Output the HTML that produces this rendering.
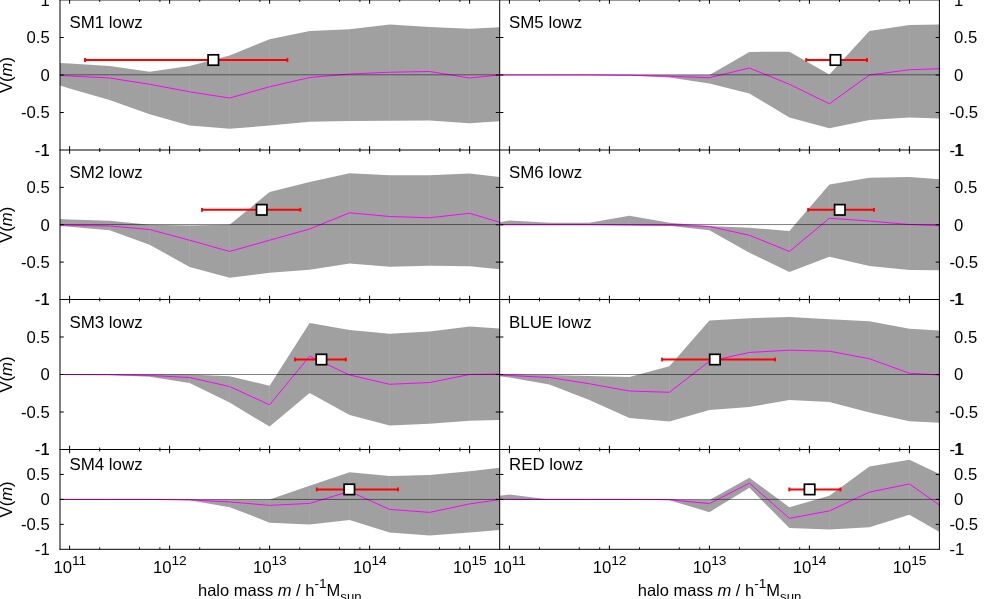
<!DOCTYPE html>
<html><head><meta charset="utf-8"><title>V(m) vs halo mass</title>
<style>
html,body{margin:0;padding:0;background:#fff;}
body{width:999px;height:599px;overflow:hidden;position:relative;font-family:"Liberation Sans",sans-serif;}
</style></head><body>
<svg width="999" height="599" viewBox="0 0 999 599" style="position:absolute;left:0;top:0;display:block" font-family="'Liberation Sans', sans-serif" font-size="16.7" fill="#000">
<rect x="0" y="0" width="999" height="599" fill="#fff"/>
<polygon fill="#a0a0a0" points="60,62.98 69.6,63.48 109.6,65.98 149.6,71.74 189.6,65.98 229.6,55.46 269.6,39.18 309.6,30.91 349.6,29.16 389.6,24.4 429.6,26.9 469.6,28.66 499.6,27.15 499.6,121.34 469.6,123.35 429.6,120.59 389.6,120.84 349.6,121.09 309.6,121.84 269.6,125.6 229.6,128.86 189.6,125.6 149.6,114.33 109.6,100.05 69.6,88.53 60,85.52"/>
<line x1="109.6" y1="66.48" x2="109.6" y2="99.55" stroke="#fff" stroke-opacity="0.07" stroke-width="1"/>
<line x1="149.6" y1="72.24" x2="149.6" y2="113.83" stroke="#fff" stroke-opacity="0.07" stroke-width="1"/>
<line x1="189.6" y1="66.48" x2="189.6" y2="125.1" stroke="#fff" stroke-opacity="0.07" stroke-width="1"/>
<line x1="229.6" y1="55.96" x2="229.6" y2="128.36" stroke="#fff" stroke-opacity="0.07" stroke-width="1"/>
<line x1="269.6" y1="39.68" x2="269.6" y2="125.1" stroke="#fff" stroke-opacity="0.07" stroke-width="1"/>
<line x1="309.6" y1="31.41" x2="309.6" y2="121.34" stroke="#fff" stroke-opacity="0.07" stroke-width="1"/>
<line x1="349.6" y1="29.66" x2="349.6" y2="120.59" stroke="#fff" stroke-opacity="0.07" stroke-width="1"/>
<line x1="389.6" y1="24.9" x2="389.6" y2="120.34" stroke="#fff" stroke-opacity="0.07" stroke-width="1"/>
<line x1="429.6" y1="27.4" x2="429.6" y2="120.09" stroke="#fff" stroke-opacity="0.07" stroke-width="1"/>
<line x1="469.6" y1="29.16" x2="469.6" y2="122.85" stroke="#fff" stroke-opacity="0.07" stroke-width="1"/>
<polygon fill="#a0a0a0" points="60,219.01 69.6,219.51 109.6,220.76 149.6,224.75 189.6,225.62 229.6,224.75 269.6,192.04 309.6,182.06 349.6,173.32 389.6,175.32 429.6,175.32 469.6,173.57 499.6,177.06 499.6,269.19 469.6,266.19 429.6,265.7 389.6,266.69 349.6,263.45 309.6,269.69 269.6,272.69 229.6,277.68 189.6,266.94 149.6,244.72 109.6,230.24 69.6,226.75 60,226"/>
<line x1="109.6" y1="221.26" x2="109.6" y2="229.74" stroke="#fff" stroke-opacity="0.07" stroke-width="1"/>
<line x1="149.6" y1="225.25" x2="149.6" y2="244.22" stroke="#fff" stroke-opacity="0.07" stroke-width="1"/>
<line x1="189.6" y1="226.12" x2="189.6" y2="266.44" stroke="#fff" stroke-opacity="0.07" stroke-width="1"/>
<line x1="229.6" y1="225.25" x2="229.6" y2="277.18" stroke="#fff" stroke-opacity="0.07" stroke-width="1"/>
<line x1="269.6" y1="192.54" x2="269.6" y2="272.19" stroke="#fff" stroke-opacity="0.07" stroke-width="1"/>
<line x1="309.6" y1="182.56" x2="309.6" y2="269.19" stroke="#fff" stroke-opacity="0.07" stroke-width="1"/>
<line x1="349.6" y1="173.82" x2="349.6" y2="262.95" stroke="#fff" stroke-opacity="0.07" stroke-width="1"/>
<line x1="389.6" y1="175.82" x2="389.6" y2="266.19" stroke="#fff" stroke-opacity="0.07" stroke-width="1"/>
<line x1="429.6" y1="175.82" x2="429.6" y2="265.2" stroke="#fff" stroke-opacity="0.07" stroke-width="1"/>
<line x1="469.6" y1="174.07" x2="469.6" y2="265.69" stroke="#fff" stroke-opacity="0.07" stroke-width="1"/>
<polygon fill="#a0a0a0" points="60,374.5 69.6,374.5 109.6,374.5 149.6,374.5 189.6,374.5 229.6,376.25 269.6,385.77 309.6,322.9 349.6,329.91 389.6,333.67 429.6,331.41 469.6,326.4 499.6,328.41 499.6,420.09 469.6,420.84 429.6,423.85 389.6,425.6 349.6,415.08 309.6,393.04 269.6,426.6 229.6,402.56 189.6,383.02 149.6,376.75 109.6,375 69.6,374.5 60,374.5"/>
<line x1="189.6" y1="375" x2="189.6" y2="382.52" stroke="#fff" stroke-opacity="0.07" stroke-width="1"/>
<line x1="229.6" y1="376.75" x2="229.6" y2="402.06" stroke="#fff" stroke-opacity="0.07" stroke-width="1"/>
<line x1="269.6" y1="386.27" x2="269.6" y2="426.1" stroke="#fff" stroke-opacity="0.07" stroke-width="1"/>
<line x1="309.6" y1="323.4" x2="309.6" y2="392.54" stroke="#fff" stroke-opacity="0.07" stroke-width="1"/>
<line x1="349.6" y1="330.41" x2="349.6" y2="414.58" stroke="#fff" stroke-opacity="0.07" stroke-width="1"/>
<line x1="389.6" y1="334.17" x2="389.6" y2="425.1" stroke="#fff" stroke-opacity="0.07" stroke-width="1"/>
<line x1="429.6" y1="331.91" x2="429.6" y2="423.35" stroke="#fff" stroke-opacity="0.07" stroke-width="1"/>
<line x1="469.6" y1="326.9" x2="469.6" y2="420.34" stroke="#fff" stroke-opacity="0.07" stroke-width="1"/>
<polygon fill="#a0a0a0" points="60,499.4 69.6,499.4 109.6,499.4 149.6,499.4 189.6,499.4 229.6,499.4 269.6,499.4 309.6,485.66 349.6,472.18 389.6,475.92 429.6,474.92 469.6,471.18 499.6,467.68 499.6,530.12 469.6,532.62 429.6,535.61 389.6,532.62 349.6,519.88 309.6,524.62 269.6,522.63 229.6,507.14 189.6,500.15 149.6,499.4 109.6,499.4 69.6,499.4 60,499.4"/>
<line x1="229.6" y1="499.9" x2="229.6" y2="506.64" stroke="#fff" stroke-opacity="0.07" stroke-width="1"/>
<line x1="269.6" y1="499.9" x2="269.6" y2="522.13" stroke="#fff" stroke-opacity="0.07" stroke-width="1"/>
<line x1="309.6" y1="486.16" x2="309.6" y2="524.12" stroke="#fff" stroke-opacity="0.07" stroke-width="1"/>
<line x1="349.6" y1="472.68" x2="349.6" y2="519.38" stroke="#fff" stroke-opacity="0.07" stroke-width="1"/>
<line x1="389.6" y1="476.42" x2="389.6" y2="532.12" stroke="#fff" stroke-opacity="0.07" stroke-width="1"/>
<line x1="429.6" y1="475.42" x2="429.6" y2="535.11" stroke="#fff" stroke-opacity="0.07" stroke-width="1"/>
<line x1="469.6" y1="471.68" x2="469.6" y2="532.12" stroke="#fff" stroke-opacity="0.07" stroke-width="1"/>
<polygon fill="#a0a0a0" points="499.6,75 509.4,75 549.4,75 589.4,75 629.4,75 669.4,75 709.4,75 749.4,51.95 789.4,51.7 829.4,74.5 869.4,30.91 909.4,24.9 939.5,24.4 939.5,118.59 909.4,117.59 869.4,120.09 829.4,128.36 789.4,117.59 749.4,93.54 709.4,83.52 669.4,77.51 629.4,75.5 589.4,75 549.4,75 509.4,75 499.6,75"/>
<line x1="709.4" y1="75.5" x2="709.4" y2="83.02" stroke="#fff" stroke-opacity="0.07" stroke-width="1"/>
<line x1="749.4" y1="52.45" x2="749.4" y2="93.04" stroke="#fff" stroke-opacity="0.07" stroke-width="1"/>
<line x1="789.4" y1="52.2" x2="789.4" y2="117.09" stroke="#fff" stroke-opacity="0.07" stroke-width="1"/>
<line x1="829.4" y1="75" x2="829.4" y2="127.86" stroke="#fff" stroke-opacity="0.07" stroke-width="1"/>
<line x1="869.4" y1="31.41" x2="869.4" y2="119.59" stroke="#fff" stroke-opacity="0.07" stroke-width="1"/>
<line x1="909.4" y1="25.4" x2="909.4" y2="117.09" stroke="#fff" stroke-opacity="0.07" stroke-width="1"/>
<polygon fill="#a0a0a0" points="499.6,222.25 509.4,220.51 549.4,222.75 589.4,222.75 629.4,215.76 669.4,222.75 709.4,226 749.4,227.75 789.4,230.99 829.4,184.55 869.4,177.81 909.4,177.06 939.5,179.31 939.5,270.19 909.4,269.94 869.4,265.94 829.4,256.71 789.4,271.94 749.4,252.71 709.4,230.24 669.4,225.75 629.4,225.25 589.4,224.75 549.4,224.75 509.4,224.75 499.6,224.75"/>
<line x1="629.4" y1="216.26" x2="629.4" y2="224.75" stroke="#fff" stroke-opacity="0.07" stroke-width="1"/>
<line x1="709.4" y1="226.5" x2="709.4" y2="229.74" stroke="#fff" stroke-opacity="0.07" stroke-width="1"/>
<line x1="749.4" y1="228.25" x2="749.4" y2="252.21" stroke="#fff" stroke-opacity="0.07" stroke-width="1"/>
<line x1="789.4" y1="231.49" x2="789.4" y2="271.44" stroke="#fff" stroke-opacity="0.07" stroke-width="1"/>
<line x1="829.4" y1="185.05" x2="829.4" y2="256.21" stroke="#fff" stroke-opacity="0.07" stroke-width="1"/>
<line x1="869.4" y1="178.31" x2="869.4" y2="265.44" stroke="#fff" stroke-opacity="0.07" stroke-width="1"/>
<line x1="909.4" y1="177.56" x2="909.4" y2="269.44" stroke="#fff" stroke-opacity="0.07" stroke-width="1"/>
<polygon fill="#a0a0a0" points="499.6,374 509.4,374.25 549.4,375 589.4,376 629.4,377.01 669.4,366.23 709.4,320.39 749.4,318.14 789.4,316.88 829.4,319.14 869.4,321.14 909.4,328.66 939.5,330.41 939.5,422.85 909.4,421.34 869.4,412.58 829.4,402.06 789.4,400.05 749.4,407.07 709.4,410.07 669.4,421.59 629.4,418.09 589.4,400.05 549.4,384.52 509.4,377.51 499.6,376.25"/>
<line x1="549.4" y1="375.5" x2="549.4" y2="384.02" stroke="#fff" stroke-opacity="0.07" stroke-width="1"/>
<line x1="589.4" y1="376.5" x2="589.4" y2="399.55" stroke="#fff" stroke-opacity="0.07" stroke-width="1"/>
<line x1="629.4" y1="377.51" x2="629.4" y2="417.59" stroke="#fff" stroke-opacity="0.07" stroke-width="1"/>
<line x1="669.4" y1="366.73" x2="669.4" y2="421.09" stroke="#fff" stroke-opacity="0.07" stroke-width="1"/>
<line x1="709.4" y1="320.89" x2="709.4" y2="409.57" stroke="#fff" stroke-opacity="0.07" stroke-width="1"/>
<line x1="749.4" y1="318.64" x2="749.4" y2="406.57" stroke="#fff" stroke-opacity="0.07" stroke-width="1"/>
<line x1="789.4" y1="317.38" x2="789.4" y2="399.55" stroke="#fff" stroke-opacity="0.07" stroke-width="1"/>
<line x1="829.4" y1="319.64" x2="829.4" y2="401.56" stroke="#fff" stroke-opacity="0.07" stroke-width="1"/>
<line x1="869.4" y1="321.64" x2="869.4" y2="412.08" stroke="#fff" stroke-opacity="0.07" stroke-width="1"/>
<line x1="909.4" y1="329.16" x2="909.4" y2="420.84" stroke="#fff" stroke-opacity="0.07" stroke-width="1"/>
<polygon fill="#a0a0a0" points="499.6,495.65 509.4,494.41 549.4,499.4 589.4,499.4 629.4,499.4 669.4,499.4 709.4,499.9 749.4,477.67 789.4,507.14 829.4,495.65 869.4,466.43 909.4,459.69 939.5,473.93 939.5,532.12 909.4,514.63 869.4,527.37 829.4,529.62 789.4,528.12 749.4,487.66 709.4,512.14 669.4,500.15 629.4,499.4 589.4,499.4 549.4,499.4 509.4,499.4 499.6,499.4"/>
<line x1="709.4" y1="500.4" x2="709.4" y2="511.64" stroke="#fff" stroke-opacity="0.07" stroke-width="1"/>
<line x1="749.4" y1="478.17" x2="749.4" y2="487.16" stroke="#fff" stroke-opacity="0.07" stroke-width="1"/>
<line x1="789.4" y1="507.64" x2="789.4" y2="527.62" stroke="#fff" stroke-opacity="0.07" stroke-width="1"/>
<line x1="829.4" y1="496.15" x2="829.4" y2="529.12" stroke="#fff" stroke-opacity="0.07" stroke-width="1"/>
<line x1="869.4" y1="466.93" x2="869.4" y2="526.87" stroke="#fff" stroke-opacity="0.07" stroke-width="1"/>
<line x1="909.4" y1="460.19" x2="909.4" y2="514.13" stroke="#fff" stroke-opacity="0.07" stroke-width="1"/>
<polyline fill="none" stroke="#ff00ff" stroke-width="1" stroke-linejoin="round" points="60,75.5 69.6,76 109.6,78.01 149.6,84.27 189.6,91.78 229.6,98.05 269.6,86.77 309.6,77.51 349.6,74 389.6,72.24 429.6,71.49 469.6,78.01 499.6,75"/>
<line x1="60" y1="74.8" x2="499.6" y2="74.8" stroke="#000" stroke-width="0.5"/>
<line x1="84.5" y1="60" x2="287.5" y2="60" stroke="#ff0000" stroke-width="2"/>
<line x1="85" y1="58.1" x2="85" y2="61.9" stroke="#ff0000" stroke-width="1.9"/>
<line x1="287.4" y1="58.1" x2="287.4" y2="61.9" stroke="#ff0000" stroke-width="1.9"/>
<rect x="208.1" y="54.8" width="10.4" height="10.4" fill="#fff" stroke="#000" stroke-width="1.7"/>
<polyline fill="none" stroke="#ff00ff" stroke-width="1" stroke-linejoin="round" points="60,225 69.6,225.25 109.6,226 149.6,229.49 189.6,240.23 229.6,251.46 269.6,240.23 309.6,228.99 349.6,212.77 389.6,216.51 429.6,217.76 469.6,213.27 499.6,222.25"/>
<line x1="60" y1="224.55" x2="499.6" y2="224.55" stroke="#000" stroke-width="0.5"/>
<line x1="201.5" y1="209.8" x2="300.5" y2="209.8" stroke="#ff0000" stroke-width="2"/>
<line x1="202" y1="207.9" x2="202" y2="211.7" stroke="#ff0000" stroke-width="1.9"/>
<line x1="300.4" y1="207.9" x2="300.4" y2="211.7" stroke="#ff0000" stroke-width="1.9"/>
<rect x="256.5" y="204.6" width="10.4" height="10.4" fill="#fff" stroke="#000" stroke-width="1.7"/>
<polyline fill="none" stroke="#ff00ff" stroke-width="1" stroke-linejoin="round" points="60,374.5 69.6,374.5 109.6,374.75 149.6,375.5 189.6,377.51 229.6,386.52 269.6,404.81 309.6,356.21 349.6,375 389.6,384.27 429.6,382.52 469.6,374.5 499.6,374"/>
<line x1="60" y1="374.5" x2="499.6" y2="374.5" stroke="#000" stroke-width="0.5"/>
<line x1="294.6" y1="359.5" x2="345.9" y2="359.5" stroke="#ff0000" stroke-width="2"/>
<line x1="295.1" y1="357.6" x2="295.1" y2="361.4" stroke="#ff0000" stroke-width="1.9"/>
<line x1="345.8" y1="357.6" x2="345.8" y2="361.4" stroke="#ff0000" stroke-width="1.9"/>
<rect x="316.2" y="354.3" width="10.4" height="10.4" fill="#fff" stroke="#000" stroke-width="1.7"/>
<polyline fill="none" stroke="#ff00ff" stroke-width="1" stroke-linejoin="round" points="60,499.4 69.6,499.4 109.6,499.4 149.6,499.4 189.6,499.9 229.6,501.9 269.6,505.39 309.6,503.4 349.6,491.41 389.6,509.39 429.6,512.39 469.6,503.9 499.6,499.65"/>
<line x1="60" y1="499.45" x2="499.6" y2="499.45" stroke="#000" stroke-width="0.5"/>
<line x1="316.3" y1="489.42" x2="398.1" y2="489.42" stroke="#ff0000" stroke-width="2"/>
<line x1="316.8" y1="487.52" x2="316.8" y2="491.32" stroke="#ff0000" stroke-width="1.9"/>
<line x1="398" y1="487.52" x2="398" y2="491.32" stroke="#ff0000" stroke-width="1.9"/>
<rect x="344.1" y="484.22" width="10.4" height="10.4" fill="#fff" stroke="#000" stroke-width="1.7"/>
<polyline fill="none" stroke="#ff00ff" stroke-width="1" stroke-linejoin="round" points="499.6,75 509.4,75 549.4,75 589.4,75 629.4,75.25 669.4,76.25 709.4,77.76 749.4,67.99 789.4,84.27 829.4,103.81 869.4,75 909.4,69.74 939.5,68.74"/>
<line x1="499.6" y1="74.8" x2="939.5" y2="74.8" stroke="#000" stroke-width="0.5"/>
<line x1="805.7" y1="60" x2="867.1" y2="60" stroke="#ff0000" stroke-width="2"/>
<line x1="806.2" y1="58.1" x2="806.2" y2="61.9" stroke="#ff0000" stroke-width="1.9"/>
<line x1="867" y1="58.1" x2="867" y2="61.9" stroke="#ff0000" stroke-width="1.9"/>
<rect x="830.3" y="54.8" width="10.4" height="10.4" fill="#fff" stroke="#000" stroke-width="1.7"/>
<polyline fill="none" stroke="#ff00ff" stroke-width="1" stroke-linejoin="round" points="499.6,224.75 509.4,224.75 549.4,224.75 589.4,224.75 629.4,225 669.4,225.25 709.4,226.5 749.4,235.24 789.4,251.46 829.4,218.26 869.4,221.01 909.4,224.5 939.5,225.75"/>
<line x1="499.6" y1="224.55" x2="939.5" y2="224.55" stroke="#000" stroke-width="0.5"/>
<line x1="807.7" y1="209.8" x2="874.1" y2="209.8" stroke="#ff0000" stroke-width="2"/>
<line x1="808.2" y1="207.9" x2="808.2" y2="211.7" stroke="#ff0000" stroke-width="1.9"/>
<line x1="874" y1="207.9" x2="874" y2="211.7" stroke="#ff0000" stroke-width="1.9"/>
<rect x="834.6" y="204.6" width="10.4" height="10.4" fill="#fff" stroke="#000" stroke-width="1.7"/>
<polyline fill="none" stroke="#ff00ff" stroke-width="1" stroke-linejoin="round" points="499.6,375 509.4,375.5 549.4,377.51 589.4,383.77 629.4,391.03 669.4,392.29 709.4,361.22 749.4,352.46 789.4,350.2 829.4,351.2 869.4,358.72 909.4,373.25 939.5,375"/>
<line x1="499.6" y1="374.5" x2="939.5" y2="374.5" stroke="#000" stroke-width="0.5"/>
<line x1="661.6" y1="359.5" x2="775.2" y2="359.5" stroke="#ff0000" stroke-width="2"/>
<line x1="662.1" y1="357.6" x2="662.1" y2="361.4" stroke="#ff0000" stroke-width="1.9"/>
<line x1="775.1" y1="357.6" x2="775.1" y2="361.4" stroke="#ff0000" stroke-width="1.9"/>
<rect x="709.7" y="354.3" width="10.4" height="10.4" fill="#fff" stroke="#000" stroke-width="1.7"/>
<polyline fill="none" stroke="#ff00ff" stroke-width="1" stroke-linejoin="round" points="499.6,499.4 509.4,499.4 549.4,499.4 589.4,499.4 629.4,499.4 669.4,499.65 709.4,503.65 749.4,483.17 789.4,518.38 829.4,510.89 869.4,492.16 909.4,483.92 939.5,505.14"/>
<line x1="499.6" y1="499.45" x2="939.5" y2="499.45" stroke="#000" stroke-width="0.5"/>
<line x1="788.8" y1="489.42" x2="840.6" y2="489.42" stroke="#ff0000" stroke-width="2"/>
<line x1="789.3" y1="487.52" x2="789.3" y2="491.32" stroke="#ff0000" stroke-width="1.9"/>
<line x1="840.5" y1="487.52" x2="840.5" y2="491.32" stroke="#ff0000" stroke-width="1.9"/>
<rect x="804.4" y="484.22" width="10.4" height="10.4" fill="#fff" stroke="#000" stroke-width="1.7"/>
<path d="M60 -1V549.7 M499.7 -1V549.7 M939.4 -1V549.7 M59.5 -0.1H939.8 M59.5 150H939.8 M59.5 299.5H939.8 M59.5 449.5H939.8 M59.5 549.3H939.8" stroke="#000" stroke-width="1" fill="none"/>
<path d="M69.6 150v-3.8 M69.6 0v3.8 M99.7 150v-1.9 M99.7 0v1.9 M139.5 150v-1.9 M139.5 0v1.9 M159.91 150v-1.9 M159.91 0v1.9 M169.6 150v-3.8 M169.6 0v3.8 M199.7 150v-1.9 M199.7 0v1.9 M239.5 150v-1.9 M239.5 0v1.9 M259.91 150v-1.9 M259.91 0v1.9 M269.6 150v-3.8 M269.6 0v3.8 M299.7 150v-1.9 M299.7 0v1.9 M339.5 150v-1.9 M339.5 0v1.9 M359.91 150v-1.9 M359.91 0v1.9 M369.6 150v-3.8 M369.6 0v3.8 M399.7 150v-1.9 M399.7 0v1.9 M439.5 150v-1.9 M439.5 0v1.9 M459.91 150v-1.9 M459.91 0v1.9 M469.6 150v-3.8 M469.6 0v3.8 M60 112.5h3.8 M499.6 112.5h-3.8 M60 75h3.8 M499.6 75h-3.8 M60 37.5h3.8 M499.6 37.5h-3.8" stroke="#000" stroke-width="1" fill="none"/>
<path d="M69.6 299.5v-3.8 M69.6 150v3.8 M99.7 299.5v-1.9 M99.7 150v1.9 M139.5 299.5v-1.9 M139.5 150v1.9 M159.91 299.5v-1.9 M159.91 150v1.9 M169.6 299.5v-3.8 M169.6 150v3.8 M199.7 299.5v-1.9 M199.7 150v1.9 M239.5 299.5v-1.9 M239.5 150v1.9 M259.91 299.5v-1.9 M259.91 150v1.9 M269.6 299.5v-3.8 M269.6 150v3.8 M299.7 299.5v-1.9 M299.7 150v1.9 M339.5 299.5v-1.9 M339.5 150v1.9 M359.91 299.5v-1.9 M359.91 150v1.9 M369.6 299.5v-3.8 M369.6 150v3.8 M399.7 299.5v-1.9 M399.7 150v1.9 M439.5 299.5v-1.9 M439.5 150v1.9 M459.91 299.5v-1.9 M459.91 150v1.9 M469.6 299.5v-3.8 M469.6 150v3.8 M60 262.12h3.8 M499.6 262.12h-3.8 M60 224.75h3.8 M499.6 224.75h-3.8 M60 187.38h3.8 M499.6 187.38h-3.8" stroke="#000" stroke-width="1" fill="none"/>
<path d="M69.6 449.5v-3.8 M69.6 299.5v3.8 M99.7 449.5v-1.9 M99.7 299.5v1.9 M139.5 449.5v-1.9 M139.5 299.5v1.9 M159.91 449.5v-1.9 M159.91 299.5v1.9 M169.6 449.5v-3.8 M169.6 299.5v3.8 M199.7 449.5v-1.9 M199.7 299.5v1.9 M239.5 449.5v-1.9 M239.5 299.5v1.9 M259.91 449.5v-1.9 M259.91 299.5v1.9 M269.6 449.5v-3.8 M269.6 299.5v3.8 M299.7 449.5v-1.9 M299.7 299.5v1.9 M339.5 449.5v-1.9 M339.5 299.5v1.9 M359.91 449.5v-1.9 M359.91 299.5v1.9 M369.6 449.5v-3.8 M369.6 299.5v3.8 M399.7 449.5v-1.9 M399.7 299.5v1.9 M439.5 449.5v-1.9 M439.5 299.5v1.9 M459.91 449.5v-1.9 M459.91 299.5v1.9 M469.6 449.5v-3.8 M469.6 299.5v3.8 M60 412h3.8 M499.6 412h-3.8 M60 374.5h3.8 M499.6 374.5h-3.8 M60 337h3.8 M499.6 337h-3.8" stroke="#000" stroke-width="1" fill="none"/>
<path d="M69.6 549.3v-3.8 M69.6 449.5v3.8 M99.7 549.3v-1.9 M99.7 449.5v1.9 M139.5 549.3v-1.9 M139.5 449.5v1.9 M159.91 549.3v-1.9 M159.91 449.5v1.9 M169.6 549.3v-3.8 M169.6 449.5v3.8 M199.7 549.3v-1.9 M199.7 449.5v1.9 M239.5 549.3v-1.9 M239.5 449.5v1.9 M259.91 549.3v-1.9 M259.91 449.5v1.9 M269.6 549.3v-3.8 M269.6 449.5v3.8 M299.7 549.3v-1.9 M299.7 449.5v1.9 M339.5 549.3v-1.9 M339.5 449.5v1.9 M359.91 549.3v-1.9 M359.91 449.5v1.9 M369.6 549.3v-3.8 M369.6 449.5v3.8 M399.7 549.3v-1.9 M399.7 449.5v1.9 M439.5 549.3v-1.9 M439.5 449.5v1.9 M459.91 549.3v-1.9 M459.91 449.5v1.9 M469.6 549.3v-3.8 M469.6 449.5v3.8 M60 524.35h3.8 M499.6 524.35h-3.8 M60 499.4h3.8 M499.6 499.4h-3.8 M60 474.45h3.8 M499.6 474.45h-3.8" stroke="#000" stroke-width="1" fill="none"/>
<path d="M509.4 150v-3.8 M509.4 0v3.8 M539.5 150v-1.9 M539.5 0v1.9 M579.3 150v-1.9 M579.3 0v1.9 M599.71 150v-1.9 M599.71 0v1.9 M609.4 150v-3.8 M609.4 0v3.8 M639.5 150v-1.9 M639.5 0v1.9 M679.3 150v-1.9 M679.3 0v1.9 M699.71 150v-1.9 M699.71 0v1.9 M709.4 150v-3.8 M709.4 0v3.8 M739.5 150v-1.9 M739.5 0v1.9 M779.3 150v-1.9 M779.3 0v1.9 M799.71 150v-1.9 M799.71 0v1.9 M809.4 150v-3.8 M809.4 0v3.8 M839.5 150v-1.9 M839.5 0v1.9 M879.3 150v-1.9 M879.3 0v1.9 M899.71 150v-1.9 M899.71 0v1.9 M909.4 150v-3.8 M909.4 0v3.8 M499.6 112.5h3.8 M939.5 112.5h-3.8 M499.6 75h3.8 M939.5 75h-3.8 M499.6 37.5h3.8 M939.5 37.5h-3.8" stroke="#000" stroke-width="1" fill="none"/>
<path d="M509.4 299.5v-3.8 M509.4 150v3.8 M539.5 299.5v-1.9 M539.5 150v1.9 M579.3 299.5v-1.9 M579.3 150v1.9 M599.71 299.5v-1.9 M599.71 150v1.9 M609.4 299.5v-3.8 M609.4 150v3.8 M639.5 299.5v-1.9 M639.5 150v1.9 M679.3 299.5v-1.9 M679.3 150v1.9 M699.71 299.5v-1.9 M699.71 150v1.9 M709.4 299.5v-3.8 M709.4 150v3.8 M739.5 299.5v-1.9 M739.5 150v1.9 M779.3 299.5v-1.9 M779.3 150v1.9 M799.71 299.5v-1.9 M799.71 150v1.9 M809.4 299.5v-3.8 M809.4 150v3.8 M839.5 299.5v-1.9 M839.5 150v1.9 M879.3 299.5v-1.9 M879.3 150v1.9 M899.71 299.5v-1.9 M899.71 150v1.9 M909.4 299.5v-3.8 M909.4 150v3.8 M499.6 262.12h3.8 M939.5 262.12h-3.8 M499.6 224.75h3.8 M939.5 224.75h-3.8 M499.6 187.38h3.8 M939.5 187.38h-3.8" stroke="#000" stroke-width="1" fill="none"/>
<path d="M509.4 449.5v-3.8 M509.4 299.5v3.8 M539.5 449.5v-1.9 M539.5 299.5v1.9 M579.3 449.5v-1.9 M579.3 299.5v1.9 M599.71 449.5v-1.9 M599.71 299.5v1.9 M609.4 449.5v-3.8 M609.4 299.5v3.8 M639.5 449.5v-1.9 M639.5 299.5v1.9 M679.3 449.5v-1.9 M679.3 299.5v1.9 M699.71 449.5v-1.9 M699.71 299.5v1.9 M709.4 449.5v-3.8 M709.4 299.5v3.8 M739.5 449.5v-1.9 M739.5 299.5v1.9 M779.3 449.5v-1.9 M779.3 299.5v1.9 M799.71 449.5v-1.9 M799.71 299.5v1.9 M809.4 449.5v-3.8 M809.4 299.5v3.8 M839.5 449.5v-1.9 M839.5 299.5v1.9 M879.3 449.5v-1.9 M879.3 299.5v1.9 M899.71 449.5v-1.9 M899.71 299.5v1.9 M909.4 449.5v-3.8 M909.4 299.5v3.8 M499.6 412h3.8 M939.5 412h-3.8 M499.6 374.5h3.8 M939.5 374.5h-3.8 M499.6 337h3.8 M939.5 337h-3.8" stroke="#000" stroke-width="1" fill="none"/>
<path d="M509.4 549.3v-3.8 M509.4 449.5v3.8 M539.5 549.3v-1.9 M539.5 449.5v1.9 M579.3 549.3v-1.9 M579.3 449.5v1.9 M599.71 549.3v-1.9 M599.71 449.5v1.9 M609.4 549.3v-3.8 M609.4 449.5v3.8 M639.5 549.3v-1.9 M639.5 449.5v1.9 M679.3 549.3v-1.9 M679.3 449.5v1.9 M699.71 549.3v-1.9 M699.71 449.5v1.9 M709.4 549.3v-3.8 M709.4 449.5v3.8 M739.5 549.3v-1.9 M739.5 449.5v1.9 M779.3 549.3v-1.9 M779.3 449.5v1.9 M799.71 549.3v-1.9 M799.71 449.5v1.9 M809.4 549.3v-3.8 M809.4 449.5v3.8 M839.5 549.3v-1.9 M839.5 449.5v1.9 M879.3 549.3v-1.9 M879.3 449.5v1.9 M899.71 549.3v-1.9 M899.71 449.5v1.9 M909.4 549.3v-3.8 M909.4 449.5v3.8 M499.6 524.35h3.8 M939.5 524.35h-3.8 M499.6 499.4h3.8 M939.5 499.4h-3.8 M499.6 474.45h3.8 M939.5 474.45h-3.8" stroke="#000" stroke-width="1" fill="none"/>
<g style="filter:grayscale(1)">
<text x="49.7" y="5.75" text-anchor="end">1</text>
<text x="49.7" y="43.25" text-anchor="end">0.5</text>
<text x="49.7" y="80.75" text-anchor="end">0</text>
<text x="49.7" y="118.25" text-anchor="end">-0.5</text>
<text x="49.7" y="155.75" text-anchor="end">-1</text>
<text x="69.4" y="27.8" font-size="16.9">SM1 lowz</text>
<text transform="translate(11.6 75) rotate(-90)" text-anchor="middle">V(<tspan font-style="italic">m</tspan>)</text>
<text x="49.7" y="155.75" text-anchor="end">1</text>
<text x="49.7" y="193.12" text-anchor="end">0.5</text>
<text x="49.7" y="230.5" text-anchor="end">0</text>
<text x="49.7" y="267.88" text-anchor="end">-0.5</text>
<text x="49.7" y="305.25" text-anchor="end">-1</text>
<text x="69.4" y="177.8" font-size="16.9">SM2 lowz</text>
<text transform="translate(11.6 224.75) rotate(-90)" text-anchor="middle">V(<tspan font-style="italic">m</tspan>)</text>
<text x="49.7" y="305.25" text-anchor="end">1</text>
<text x="49.7" y="342.75" text-anchor="end">0.5</text>
<text x="49.7" y="380.25" text-anchor="end">0</text>
<text x="49.7" y="417.75" text-anchor="end">-0.5</text>
<text x="49.7" y="455.25" text-anchor="end">-1</text>
<text x="69.4" y="327.8" font-size="16.9">SM3 lowz</text>
<text transform="translate(11.6 374.5) rotate(-90)" text-anchor="middle">V(<tspan font-style="italic">m</tspan>)</text>
<text x="49.7" y="455.25" text-anchor="end">1</text>
<text x="49.7" y="480.2" text-anchor="end">0.5</text>
<text x="49.7" y="505.15" text-anchor="end">0</text>
<text x="49.7" y="530.1" text-anchor="end">-0.5</text>
<text x="49.7" y="555.05" text-anchor="end">-1</text>
<text x="69.4" y="469.5" font-size="16.9">SM4 lowz</text>
<text transform="translate(11.6 499.4) rotate(-90)" text-anchor="middle">V(<tspan font-style="italic">m</tspan>)</text>
<text x="949.4" y="5.75" xml:space="preserve"> 1</text>
<text x="949.4" y="43.25" xml:space="preserve"> 0.5</text>
<text x="949.4" y="80.75" xml:space="preserve"> 0</text>
<text x="949.4" y="118.25" xml:space="preserve">-0.5</text>
<text x="949.4" y="155.75" xml:space="preserve">-1</text>
<text x="509" y="27.8" font-size="16.9">SM5 lowz</text>
<text x="949.4" y="155.75" xml:space="preserve"> 1</text>
<text x="949.4" y="193.12" xml:space="preserve"> 0.5</text>
<text x="949.4" y="230.5" xml:space="preserve"> 0</text>
<text x="949.4" y="267.88" xml:space="preserve">-0.5</text>
<text x="949.4" y="305.25" xml:space="preserve">-1</text>
<text x="509" y="177.8" font-size="16.9">SM6 lowz</text>
<text x="949.4" y="305.25" xml:space="preserve"> 1</text>
<text x="949.4" y="342.75" xml:space="preserve"> 0.5</text>
<text x="949.4" y="380.25" xml:space="preserve"> 0</text>
<text x="949.4" y="417.75" xml:space="preserve">-0.5</text>
<text x="949.4" y="455.25" xml:space="preserve">-1</text>
<text x="509" y="327.8" font-size="16.9">BLUE lowz</text>
<text x="949.4" y="455.25" xml:space="preserve"> 1</text>
<text x="949.4" y="480.2" xml:space="preserve"> 0.5</text>
<text x="949.4" y="505.15" xml:space="preserve"> 0</text>
<text x="949.4" y="530.1" xml:space="preserve">-0.5</text>
<text x="949.4" y="555.05" xml:space="preserve">-1</text>
<text x="509" y="469.5" font-size="16.9">RED lowz</text>
<text x="69.8" y="573.1" text-anchor="middle">10<tspan font-size="13.69" dy="-8.6">11</tspan></text>
<text x="169.8" y="573.1" text-anchor="middle">10<tspan font-size="13.69" dy="-8.6">12</tspan></text>
<text x="269.8" y="573.1" text-anchor="middle">10<tspan font-size="13.69" dy="-8.6">13</tspan></text>
<text x="369.8" y="573.1" text-anchor="middle">10<tspan font-size="13.69" dy="-8.6">14</tspan></text>
<text x="469.8" y="573.1" text-anchor="middle">10<tspan font-size="13.69" dy="-8.6">15</tspan></text>
<text x="279.8" y="596" font-size="16.5" text-anchor="middle">halo mass <tspan font-style="italic">m</tspan> / h<tspan font-size="13.69" dy="-8.4">-1</tspan><tspan dy="8.4">M</tspan><tspan font-size="13.19" dy="5">sun</tspan></text>
<text x="509.6" y="573.1" text-anchor="middle">10<tspan font-size="13.69" dy="-8.6">11</tspan></text>
<text x="609.6" y="573.1" text-anchor="middle">10<tspan font-size="13.69" dy="-8.6">12</tspan></text>
<text x="709.6" y="573.1" text-anchor="middle">10<tspan font-size="13.69" dy="-8.6">13</tspan></text>
<text x="809.6" y="573.1" text-anchor="middle">10<tspan font-size="13.69" dy="-8.6">14</tspan></text>
<text x="909.6" y="573.1" text-anchor="middle">10<tspan font-size="13.69" dy="-8.6">15</tspan></text>
<text x="719.55" y="596" font-size="16.5" text-anchor="middle">halo mass <tspan font-style="italic">m</tspan> / h<tspan font-size="13.69" dy="-8.4">-1</tspan><tspan dy="8.4">M</tspan><tspan font-size="13.19" dy="5">sun</tspan></text>
</g>
</svg>
</body></html>
